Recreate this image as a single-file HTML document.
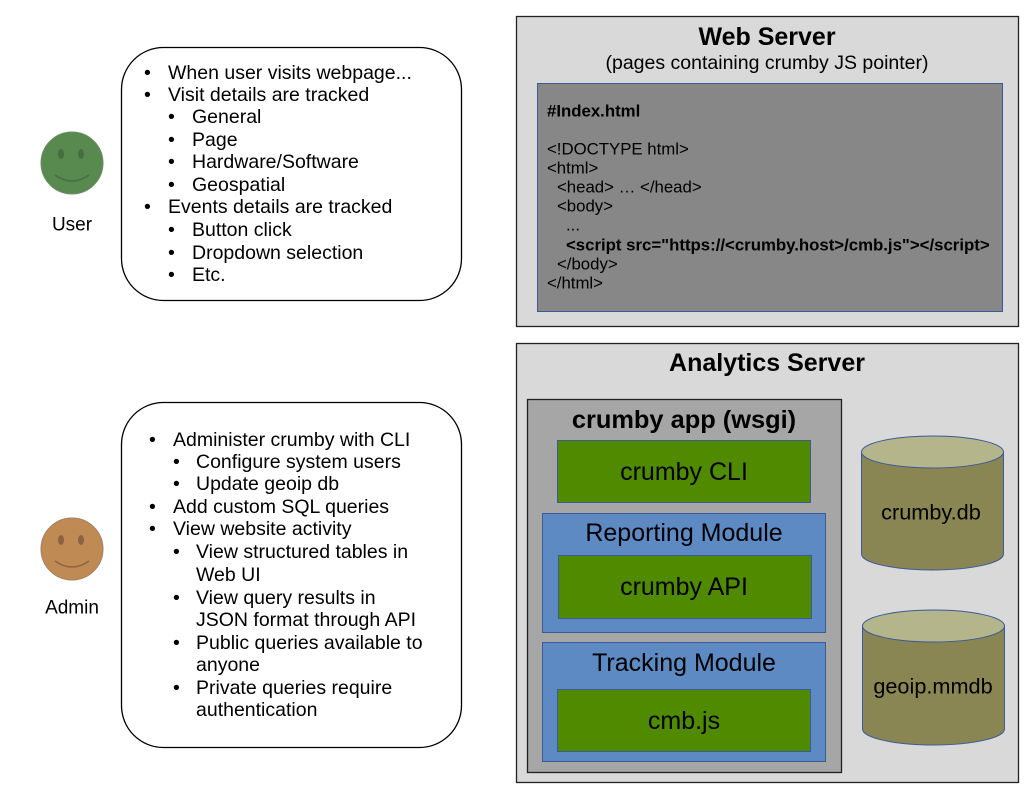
<!DOCTYPE html>
<html><head><style>body{margin:0;background:#fff}svg{display:block}text{font-family:"Liberation Sans",sans-serif;fill:#000}</style></head>
<body>
<svg width="1034" height="799" viewBox="0 0 1034 799" xmlns="http://www.w3.org/2000/svg">
<!-- user -->
<circle cx="72" cy="163" r="31" fill="#588a4f" stroke="#6f8a6a"/>
<ellipse cx="61" cy="154" rx="3" ry="5" fill="#466e3f"/><ellipse cx="81" cy="154" rx="3" ry="5" fill="#466e3f"/>
<path d="M55 175 Q72 187 89 175" fill="none" stroke="#466e3f" stroke-width="1.5"/>
<text x="72" y="225" font-size="19" text-anchor="middle" dominant-baseline="central">User</text>
<rect x="121.5" y="47.5" width="340" height="253" rx="42" fill="#fff" stroke="#000" stroke-width="1.3"/>
<g font-size="19.5" dominant-baseline="central">
<text x="144" y="73">•</text><text x="168" y="73">When user visits webpage...</text>
<text x="144" y="95">•</text><text x="168" y="95">Visit details are tracked</text>
<text x="168" y="117">•</text><text x="192" y="117">General</text>
<text x="168" y="140">•</text><text x="192" y="140">Page</text>
<text x="168" y="162">•</text><text x="192" y="162">Hardware/Software</text>
<text x="168" y="185">•</text><text x="192" y="185">Geospatial</text>
<text x="144" y="207">•</text><text x="168" y="207">Events details are tracked</text>
<text x="168" y="230">•</text><text x="192" y="230">Button click</text>
<text x="168" y="253">•</text><text x="192" y="253">Dropdown selection</text>
<text x="168" y="275">•</text><text x="192" y="275">Etc.</text>
</g>
<!-- admin -->
<circle cx="72" cy="549" r="31" fill="#c08a55" stroke="#a08060"/>
<ellipse cx="61" cy="540" rx="3" ry="5" fill="#8a6440"/><ellipse cx="81" cy="540" rx="3" ry="5" fill="#8a6440"/>
<path d="M55 561 Q72 573 89 561" fill="none" stroke="#8a6440" stroke-width="1.5"/>
<text x="72" y="608" font-size="19" text-anchor="middle" dominant-baseline="central">Admin</text>
<rect x="121.5" y="402.5" width="340" height="345" rx="42" fill="#fff" stroke="#000" stroke-width="1.3"/>
<g font-size="19.5" dominant-baseline="central">
<text x="149" y="440">•</text><text x="173" y="440">Administer crumby with CLI</text>
<text x="173" y="462">•</text><text x="196" y="462">Configure system users</text>
<text x="173" y="484">•</text><text x="196" y="484">Update geoip db</text>
<text x="149" y="507">•</text><text x="173" y="507">Add custom SQL queries</text>
<text x="149" y="529">•</text><text x="173" y="529">View website activity</text>
<text x="173" y="552">•</text><text x="196" y="552">View structured tables in</text>
<text x="196" y="575">Web UI</text>
<text x="173" y="598">•</text><text x="196" y="598">View query results in</text>
<text x="196" y="620">JSON format through API</text>
<text x="173" y="643">•</text><text x="196" y="643">Public queries available to</text>
<text x="196" y="665">anyone</text>
<text x="173" y="688">•</text><text x="196" y="688">Private queries require</text>
<text x="196" y="710">authentication</text>
</g>
<!-- web server -->
<rect x="516.5" y="16.5" width="502" height="310" fill="#d9d9d9" stroke="#222" stroke-width="1.3"/>
<text x="767" y="37" font-size="25" font-weight="bold" text-anchor="middle" dominant-baseline="central">Web Server</text>
<text x="767" y="63" font-size="19.5" text-anchor="middle" dominant-baseline="central">(pages containing crumby JS pointer)</text>
<rect x="537.5" y="83.5" width="465" height="228" fill="#878787" stroke="#3a5a99"/>
<g font-size="16.8" dominant-baseline="central">
<text x="547" y="111" font-weight="bold">#Index.html</text>
<text x="547" y="149">&lt;!DOCTYPE html&gt;</text>
<text x="547" y="168">&lt;html&gt;</text>
<text x="557" y="187">&lt;head&gt; … &lt;/head&gt;</text>
<text x="557" y="206">&lt;body&gt;</text>
<text x="566" y="225">...</text>
<text x="566" y="245" font-weight="bold">&lt;script src="https://&lt;crumby.host&gt;/cmb.js"&gt;&lt;/script&gt;</text>
<text x="557" y="264">&lt;/body&gt;</text>
<text x="547" y="283">&lt;/html&gt;</text>
</g>
<!-- analytics -->
<rect x="516.5" y="343.5" width="502" height="439" fill="#d9d9d9" stroke="#222" stroke-width="1.3"/>
<text x="767" y="363" font-size="25" font-weight="bold" text-anchor="middle" dominant-baseline="central">Analytics Server</text>
<rect x="527.5" y="399.5" width="314" height="373" fill="#a6a6a6" stroke="#222" stroke-width="1.3"/>
<text x="684" y="420" font-size="25.4" font-weight="bold" text-anchor="middle" dominant-baseline="central">crumby app (wsgi)</text>
<rect x="557.5" y="440.5" width="253" height="62" fill="#4f8a00" stroke="#3a5a99"/>
<text x="684" y="472" font-size="25" text-anchor="middle" dominant-baseline="central">crumby CLI</text>
<rect x="542.5" y="513.5" width="283" height="119" fill="#5e8ac4" stroke="#3a5a99"/>
<text x="684" y="533" font-size="25" text-anchor="middle" dominant-baseline="central">Reporting Module</text>
<rect x="558.5" y="555.5" width="253" height="63" fill="#4f8a00" stroke="#3a5a99"/>
<text x="684" y="587" font-size="25" text-anchor="middle" dominant-baseline="central">crumby API</text>
<rect x="542.5" y="642.5" width="283" height="119" fill="#5e8ac4" stroke="#3a5a99"/>
<text x="684" y="663" font-size="25" text-anchor="middle" dominant-baseline="central">Tracking Module</text>
<rect x="557.5" y="689.5" width="253" height="62" fill="#4f8a00" stroke="#3a5a99"/>
<text x="684" y="721" font-size="25" text-anchor="middle" dominant-baseline="central">cmb.js</text>
<!-- cylinders -->
<path d="M861.5 452 V554 A71 16 0 0 0 1003.5 554 V452" fill="#8a8653" stroke="#3a5a99"/>
<ellipse cx="932.5" cy="452" rx="71" ry="16" fill="#b5b58c" stroke="#3a5a99"/>
<text x="931" y="512" font-size="21.7" text-anchor="middle" dominant-baseline="central">crumby.db</text>
<path d="M862.5 626 V729 A71 16 0 0 0 1004.5 729 V626" fill="#8a8653" stroke="#3a5a99"/>
<ellipse cx="933.5" cy="626" rx="71" ry="16" fill="#b5b58c" stroke="#3a5a99"/>
<text x="933" y="686" font-size="21.7" text-anchor="middle" dominant-baseline="central">geoip.mmdb</text>
</svg>
</body></html>
